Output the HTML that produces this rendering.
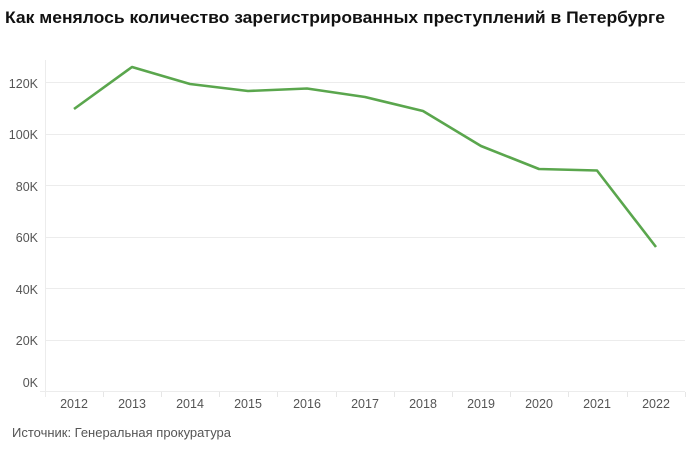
<!DOCTYPE html>
<html><head><meta charset="utf-8"><style>
body{margin:0;background:#fff;width:698px;height:451px;overflow:hidden;font-family:"Liberation Sans","DejaVu Sans",sans-serif}
</style></head><body>
<svg width="698" height="451" xmlns="http://www.w3.org/2000/svg" font-family="Liberation Sans, DejaVu Sans, sans-serif">
<text x="5" y="23" font-size="17" font-weight="bold" fill="#111" textLength="660" lengthAdjust="spacingAndGlyphs">Как менялось количество зарегистрированных преступлений в Петербурге</text>
<g stroke="#ececec" stroke-width="1">
<line x1="45" x2="685" y1="82.5" y2="82.5"/>
<line x1="45" x2="685" y1="134.5" y2="134.5"/>
<line x1="45" x2="685" y1="185.5" y2="185.5"/>
<line x1="45" x2="685" y1="237.5" y2="237.5"/>
<line x1="45" x2="685" y1="288.5" y2="288.5"/>
<line x1="45" x2="685" y1="340.5" y2="340.5"/>
<line x1="40" x2="685" y1="391.5" y2="391.5"/>
<line x1="45.5" x2="45.5" y1="60" y2="397"/>
</g>
<g stroke="#e6e6e6">
<line x1="103.5" x2="103.5" y1="392" y2="397"/><line x1="161.5" x2="161.5" y1="392" y2="397"/><line x1="219.5" x2="219.5" y1="392" y2="397"/><line x1="277.5" x2="277.5" y1="392" y2="397"/><line x1="336.5" x2="336.5" y1="392" y2="397"/><line x1="394.5" x2="394.5" y1="392" y2="397"/><line x1="452.5" x2="452.5" y1="392" y2="397"/><line x1="510.5" x2="510.5" y1="392" y2="397"/><line x1="568.5" x2="568.5" y1="392" y2="397"/><line x1="627.5" x2="627.5" y1="392" y2="397"/><line x1="685.5" x2="685.5" y1="392" y2="397"/>
</g>
<g font-size="12.5" fill="#555" text-anchor="end">
<text x="38" y="88">120K</text><text x="38" y="139">100K</text><text x="38" y="191">80K</text><text x="38" y="242">60K</text><text x="38" y="294">40K</text><text x="38" y="345">20K</text><text x="38" y="387">0K</text>
</g>
<g font-size="12.5" fill="#555" text-anchor="middle">
<text x="74" y="408">2012</text><text x="132" y="408">2013</text><text x="190" y="408">2014</text><text x="248" y="408">2015</text><text x="307" y="408">2016</text><text x="365" y="408">2017</text><text x="423" y="408">2018</text><text x="481" y="408">2019</text><text x="539" y="408">2020</text><text x="597" y="408">2021</text><text x="656" y="408">2022</text>
</g>
<polyline fill="none" stroke="#5aa64d" stroke-width="2.6" stroke-linejoin="round" points="74,109 132,67 190,84 248,91 307,88.5 365,97 423,111 481,146 539,169 597,170.5 656,247"/>
<text x="12" y="437" font-size="12.5" fill="#555" textLength="219" lengthAdjust="spacingAndGlyphs">Источник: Генеральная прокуратура</text>
</svg>
</body></html>
